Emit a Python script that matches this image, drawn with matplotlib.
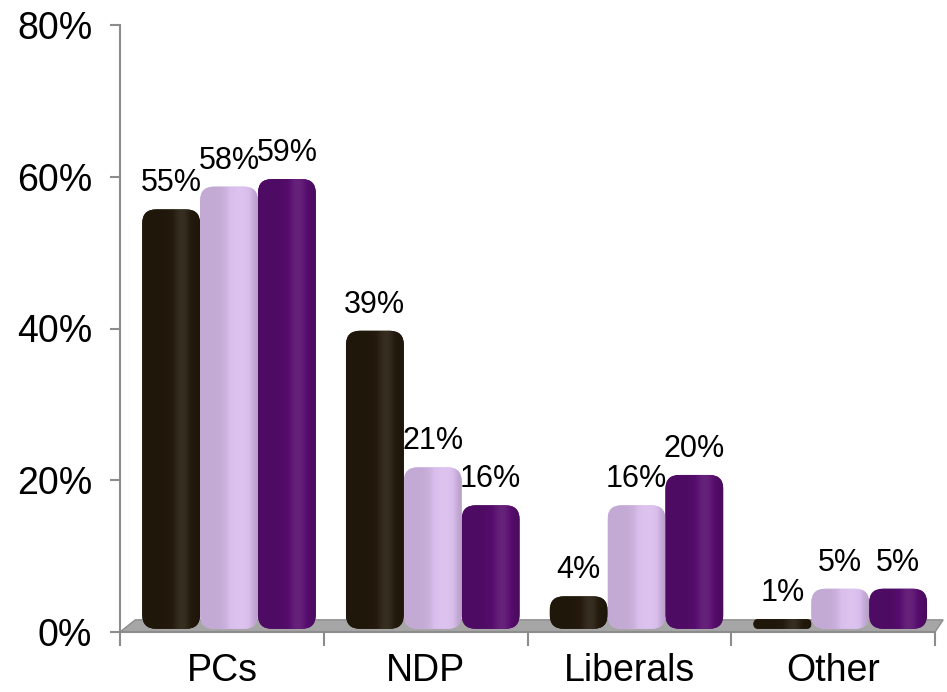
import numpy as np
import matplotlib.pyplot as plt
from matplotlib.patches import FancyBboxPatch, Polygon
from matplotlib.colors import to_rgb

plt.rcParams['font.family'] = ['Liberation Sans', 'DejaVu Sans']

categories = ["PCs", "NDP", "Liberals", "Other"]
series_a = [55, 39, 4, 1]
series_b = [58, 21, 16, 5]
series_c = [59, 16, 20, 5]
series = [series_a, series_b, series_c]
colors = ["#241a0d", "#d9bdec", "#570d6e"]

fig = plt.figure(figsize=(9.47, 6.92), dpi=100)
ax = fig.add_axes([120 / 947, 60 / 692, 815 / 947, 607 / 692])

ax.set_xlim(-0.5, 3.5)
ax.set_ylim(0, 80)

# data units per pixel, used to keep the rounded tops round
px_x = 4 / 815
px_y = 80 / 607
aspect = px_y / px_x

width = 0.284
depth_x = 0.035
depth_y = 0.7


def gradient(c, n=64):
    base = np.array(to_rgb(c))
    t = np.linspace(0, 1, n)
    k = 0.9 + 0.22 * np.exp(-((t - 0.7) / 0.2) ** 2) - 0.08 * t ** 6
    rows = []
    for v in k:
        if v <= 1:
            rows.append(base * v)
        else:
            rows.append(base + (1 - base) * (v - 1) * 0.8)
    return np.array(rows)[None, :, :]


# floor of the 3d plot
floor = Polygon([(-0.5, 0), (3.5, 0), (3.5 + 0.04, 1.6), (-0.5 + 0.075, 1.6)],
                closed=True, facecolor="#a6a6a6", edgecolor="#8c8c8c",
                lw=1, zorder=1, clip_on=False)
ax.add_patch(floor)

x = np.arange(len(categories))
for i, (vals, col) in enumerate(zip(series, colors)):
    for xi, v in zip(x, vals):
        left = xi + (i - 1) * width - width / 2 + depth_x
        y0 = depth_y * 0.6
        h = v + depth_y - y0
        r = min(14 * px_x, h / aspect / 2, width / 2)
        patch = FancyBboxPatch((left, y0), width, h,
                               boxstyle="round,pad=0,rounding_size=%f" % r,
                               mutation_aspect=aspect,
                               facecolor=col, edgecolor="none", zorder=2)
        ax.add_patch(patch)
        im = ax.imshow(gradient(col), extent=(left, left + width, y0, y0 + h),
                       aspect="auto", zorder=3, interpolation="bilinear")
        im.set_clip_path(patch)
        ax.annotate("%d%%" % v, (left + width / 2, v + depth_y),
                    xytext=(0, 8), textcoords="offset points",
                    ha="center", va="bottom", fontsize=22, zorder=5)

ax.set_xlim(-0.5, 3.5)
ax.set_ylim(0, 80)

for s in ["top", "right"]:
    ax.spines[s].set_visible(False)
for s in ["left", "bottom"]:
    ax.spines[s].set_color("#8c8c8c")
    ax.spines[s].set_linewidth(1.5)

ax.set_yticks([0, 20, 40, 60, 80])
ax.set_yticklabels(["0%", "20%", "40%", "60%", "80%"])
ax.tick_params(axis="y", length=7, width=1.5, color="#8c8c8c",
               labelsize=27, pad=13)

ax.set_xticks([-0.5, 0.5, 1.5, 2.5, 3.5])
ax.set_xticklabels([])
ax.tick_params(axis="x", which="major", length=10, width=1.5, color="#8c8c8c")
ax.set_xticks(x, minor=True)
ax.set_xticklabels(categories, minor=True)
ax.tick_params(axis="x", which="minor", length=0, labelsize=27, pad=15)

fig.savefig("out.png", dpi=100)
